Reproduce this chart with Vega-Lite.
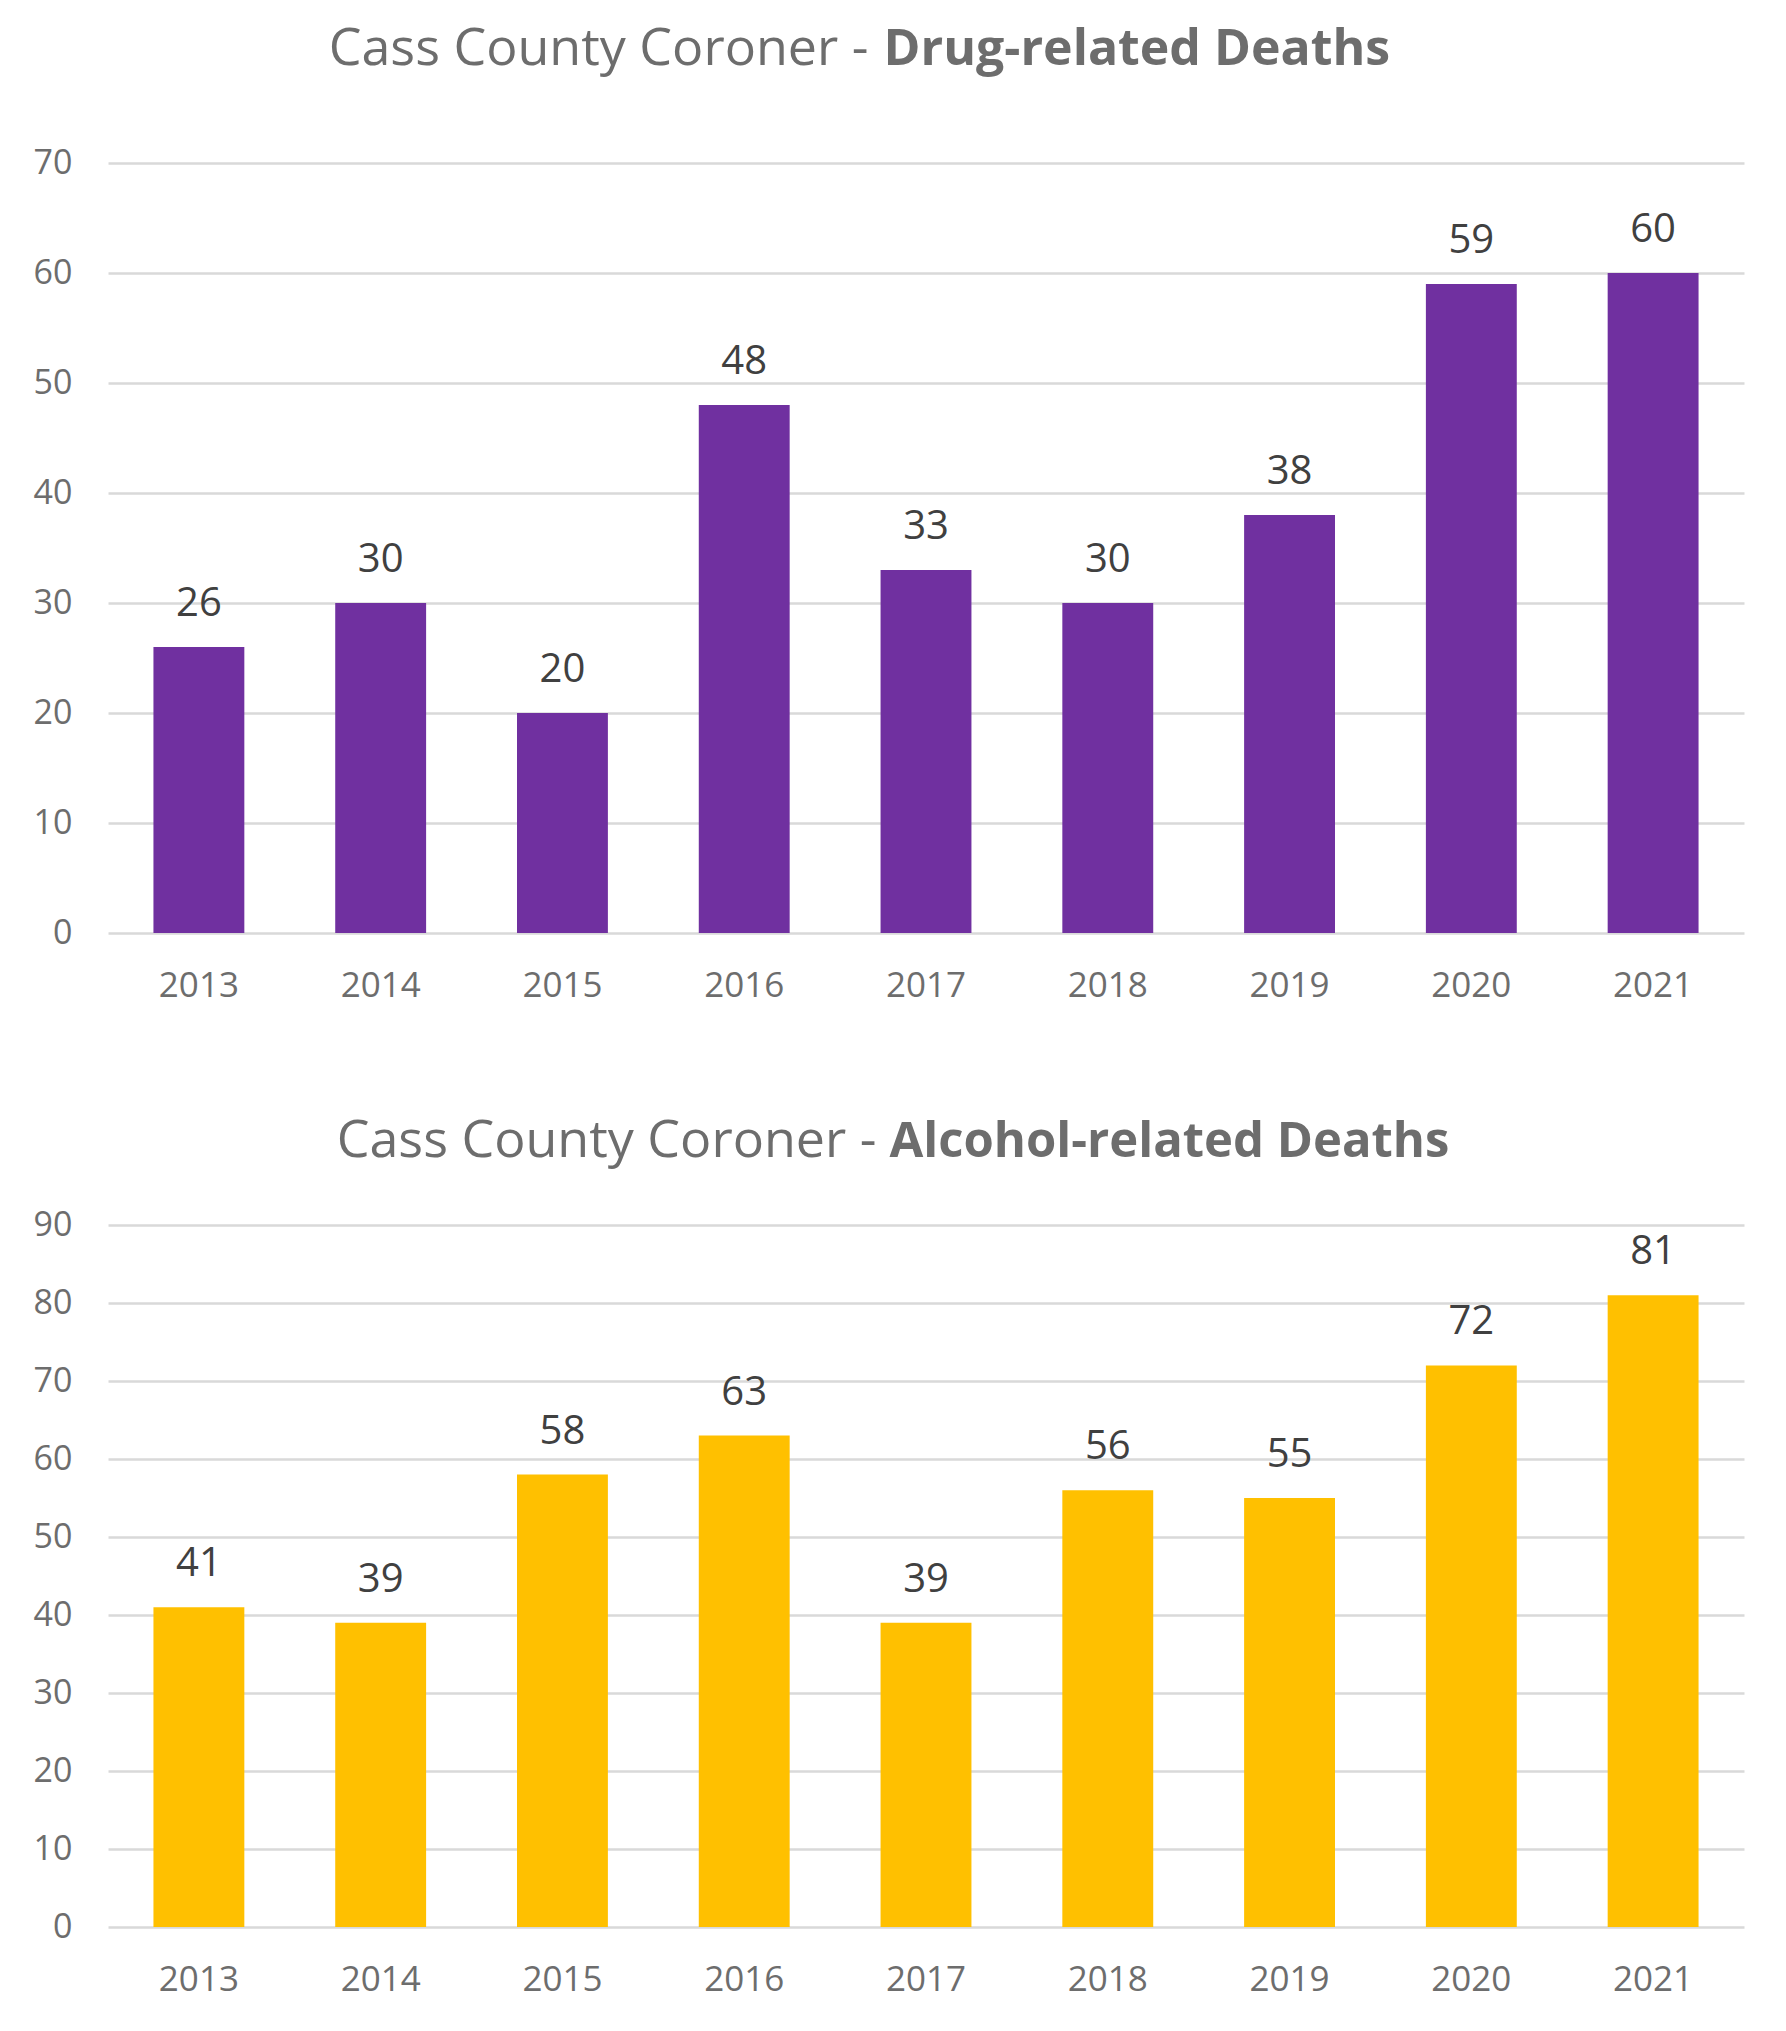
{
  "$schema": "https://vega.github.io/schema/vega-lite/v6.json",
  "background": "white",
  "padding": {"left": 33, "top": 22, "right": 10, "bottom": 10},
  "spacing": 111,
  "config": {
    "font": "Open Sans",
    "view": {"stroke": null},
    "axis": {"labelFont": "Open Sans", "titleFont": "Open Sans"}
  },
  "vconcat": [
    {
      "width": 1636,
      "height": 770,
      "data": {"values": [
        {"year": "2013", "deaths": 26},
        {"year": "2014", "deaths": 30},
        {"year": "2015", "deaths": 20},
        {"year": "2016", "deaths": 48},
        {"year": "2017", "deaths": 33},
        {"year": "2018", "deaths": 30},
        {"year": "2019", "deaths": 38},
        {"year": "2020", "deaths": 59},
        {"year": "2021", "deaths": 60}
      ]},
      "resolve": {"scale": {"y": "shared"}, "axis": {"y": "independent"}},
      "layer": [
        {
          "mark": {"type": "bar", "color": "#7030A0"},
          "encoding": {
            "x": {"field": "year", "type": "nominal", "sort": null,
              "scale": {"paddingInner": 0.5, "paddingOuter": 0.25},
              "axis": {"title": null, "labelAngle": 0, "ticks": false, "domain": false,
                "labelFontSize": 35, "labelColor": "#6d6d6d", "labelPadding": 35, "labelBaseline": "top"}},
            "y": {"field": "deaths", "type": "quantitative",
              "scale": {"domain": [0, 70], "nice": false},
              "axis": {"orient": "left", "values": [0, 10, 20, 30, 40, 50, 60, 70],
                "ticks": false, "domain": false, "gridColor": "#d9d9d9", "gridWidth": 2.5,
                "labelFontSize": 34, "labelColor": "#6d6d6d", "labelPadding": 36,
                "title": "Drug-related Deaths", "titleAngle": 0, "titleAlign": "left",
                "titleBaseline": "alphabetic", "titleX": 775, "titleY": -99,
                "titleFontSize": 50, "titleFontWeight": "bold", "titleColor": "#6d6d6d"}}
          }
        },
        {
          "mark": {"type": "text", "fontSize": 40, "color": "#404040", "baseline": "alphabetic", "dy": -31},
          "encoding": {
            "x": {"field": "year", "type": "nominal", "sort": null},
            "y": {"field": "deaths", "type": "quantitative",
              "scale": {"domain": [0, 70], "nice": false},
              "axis": {"orient": "right", "labels": false, "ticks": false, "domain": false, "grid": false,
                "title": "Cass County Coroner -", "titleAngle": 0, "titleAlign": "right",
                "titleBaseline": "alphabetic", "titleX": -876, "titleY": -99,
                "titleFontSize": 52, "titleFontWeight": "normal", "titleColor": "#6d6d6d"}},
            "text": {"field": "deaths", "type": "quantitative"}
          }
        }
      ]
    },
    {
      "width": 1636,
      "height": 702,
      "data": {"values": [
        {"year": "2013", "deaths": 41},
        {"year": "2014", "deaths": 39},
        {"year": "2015", "deaths": 58},
        {"year": "2016", "deaths": 63},
        {"year": "2017", "deaths": 39},
        {"year": "2018", "deaths": 56},
        {"year": "2019", "deaths": 55},
        {"year": "2020", "deaths": 72},
        {"year": "2021", "deaths": 81}
      ]},
      "resolve": {"scale": {"y": "shared"}, "axis": {"y": "independent"}},
      "layer": [
        {
          "mark": {"type": "bar", "color": "#FFC000"},
          "encoding": {
            "x": {"field": "year", "type": "nominal", "sort": null,
              "scale": {"paddingInner": 0.5, "paddingOuter": 0.25},
              "axis": {"title": null, "labelAngle": 0, "ticks": false, "domain": false,
                "labelFontSize": 35, "labelColor": "#6d6d6d", "labelPadding": 35, "labelBaseline": "top"}},
            "y": {"field": "deaths", "type": "quantitative",
              "scale": {"domain": [0, 90], "nice": false},
              "axis": {"orient": "left", "values": [0, 10, 20, 30, 40, 50, 60, 70, 80, 90],
                "ticks": false, "domain": false, "gridColor": "#d9d9d9", "gridWidth": 2.5,
                "labelFontSize": 34, "labelColor": "#6d6d6d", "labelPadding": 36,
                "title": "Alcohol-related Deaths", "titleAngle": 0, "titleAlign": "left",
                "titleBaseline": "alphabetic", "titleX": 781, "titleY": -69,
                "titleFontSize": 49, "titleFontWeight": "bold", "titleColor": "#6d6d6d"}}
          }
        },
        {
          "mark": {"type": "text", "fontSize": 40, "color": "#404040", "baseline": "alphabetic", "dy": -31},
          "encoding": {
            "x": {"field": "year", "type": "nominal", "sort": null},
            "y": {"field": "deaths", "type": "quantitative",
              "scale": {"domain": [0, 90], "nice": false},
              "axis": {"orient": "right", "labels": false, "ticks": false, "domain": false, "grid": false,
                "title": "Cass County Coroner -", "titleAngle": 0, "titleAlign": "right",
                "titleBaseline": "alphabetic", "titleX": -868, "titleY": -69,
                "titleFontSize": 52, "titleFontWeight": "normal", "titleColor": "#6d6d6d"}},
            "text": {"field": "deaths", "type": "quantitative"}
          }
        }
      ]
    }
  ]
}
